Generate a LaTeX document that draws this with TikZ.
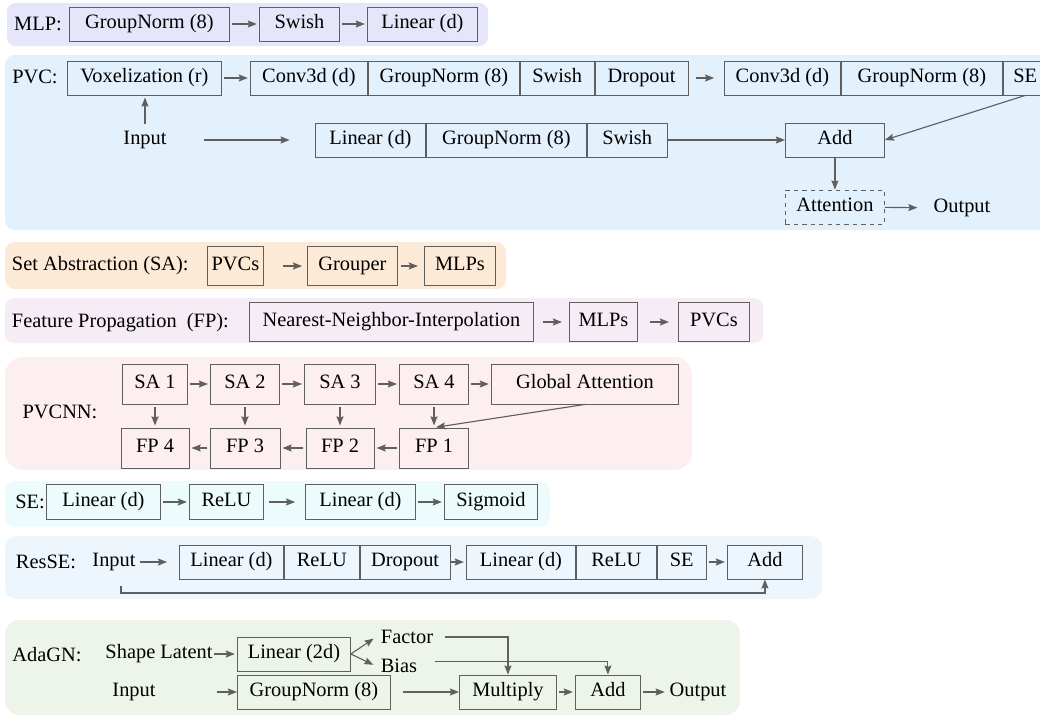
\documentclass[tikz,border=0pt]{standalone}
\usepackage{fontspec}
\setmainfont{Liberation Serif}
\usetikzlibrary{arrows.meta}

\definecolor{trait}{RGB}{95,95,95}
\definecolor{fondmlp}{RGB}{230,230,250}
\definecolor{fondpvc}{RGB}{227,241,253}
\definecolor{fondsa}{RGB}{253,234,214}
\definecolor{fondfp}{RGB}{245,236,246}
\definecolor{fondpvcnn}{RGB}{253,239,239}
\definecolor{fondse}{RGB}{236,252,253}
\definecolor{fondres}{RGB}{238,246,253}
\definecolor{fondada}{RGB}{237,245,235}

\begin{document}
\begin{tikzpicture}[x=0.025cm, y=-0.025cm, font=\fontsize{14.5}{17}\selectfont,
    bloc/.style={draw=trait, line width=0.6pt, minimum height=0.85cm, inner sep=0pt, text height=0.66em, text depth=0pt},
    fleche/.style={draw=trait, line width=0.8pt, -{Stealth[length=6.5pt,width=5pt,inset=1pt]}, shorten <=1.5pt, shorten >=1.5pt}]

        \useasboundingbox (0,0) rectangle (1040,717);

        %% MLP
        \fill [fondmlp, rounded corners=6pt] (7,3) rectangle (488,46);
        \node [] (mlptxt) at (38,24) {MLP:};
        \node [bloc, anchor=west, minimum width=4cm] (mlpgn) at (69,24) {GroupNorm (8)};
        \node [bloc, anchor=west, minimum width=2cm] (mlpsw) at (259,24) {Swish};
        \node [bloc, anchor=west, minimum width=2.75cm] (mlplin) at (367,24) {Linear (d)};
        \draw [fleche] (mlpgn) -- (mlpsw);
        \draw [fleche] (mlpsw) -- (mlplin);

        %% PVC
        \fill [fondpvc, rounded corners=7pt] (5,55) rectangle (1060,230);
        \node [] (pvctxt) at (35,77) {PVC:};
        \node [bloc, anchor=west, minimum width=3.85cm] (pvcvox) at (67,78) {Voxelization (r)};
        \node [bloc, anchor=west, minimum width=2.925cm] (pvcconva) at (250,78) {Conv3d (d)};
        \node [bloc, anchor=west, minimum width=3.775cm] (pvcgna) at (pvcconva.east) {GroupNorm (8)};
        \node [bloc, anchor=west, minimum width=1.85cm] (pvcswa) at (pvcgna.east) {Swish};
        \node [bloc, anchor=west, minimum width=2.325cm] (pvcdrop) at (pvcswa.east) {Dropout};
        \node [bloc, anchor=west, minimum width=2.9cm] (pvcconvb) at (724,78) {Conv3d (d)};
        \node [bloc, anchor=west, minimum width=4.025cm] (pvcgnb) at (pvcconvb.east) {GroupNorm (8)};
        \node [bloc, anchor=west, minimum width=1.1cm] (pvcse) at (pvcgnb.east) {SE};

        \node [] (pvcin) at (145,140) {Input};
        \node [bloc, anchor=west, minimum width=2.75cm] (pvclin) at (315,140) {Linear (d)};
        \node [bloc, anchor=west, minimum width=4cm] (pvcgnc) at (pvclin.east) {GroupNorm (8)};
        \node [bloc, anchor=west, minimum width=2cm] (pvcswc) at (pvcgnc.east) {Swish};
        \node [bloc, anchor=west, minimum width=2.475cm] (pvcadd) at (785,140) {Add};
        \node [bloc, anchor=west, minimum width=2.475cm, dashed] (pvcatt) at (785,207) {Attention};
        \node [] (pvcout) at (962,208) {Output};

        \draw [fleche] (pvcvox) -- (pvcconva);
        \draw [fleche, shorten <=5pt, shorten >=7pt] (pvcdrop) -- (pvcconvb);
        \draw [fleche] (pvcin.north) -- (pvcin.north |- pvcvox.south);
        \draw [fleche, shorten <=23pt, shorten >=18pt] (pvcin) -- (pvclin);
        \draw [fleche, shorten <=0pt, shorten >=0pt] (pvcswc) -- (pvcadd);
        \draw [fleche, shorten <=0pt, shorten >=0pt] (pvcse.south) -- (pvcadd.east);
        \draw [fleche, shorten <=0pt, shorten >=0pt] (pvcadd) -- (pvcatt);
        \draw [fleche, shorten <=0pt, shorten >=8pt] (pvcatt) -- (pvcout);

        %% set abstraction
        \fill [fondsa, rounded corners=7pt] (5,242) rectangle (506,289);
        \node [anchor=west] (satxt) at (7,266) {Set Abstraction (SA):};
        \node [bloc, anchor=west, minimum width=1.4cm, minimum height=0.975cm] (sapvc) at (207,266) {PVCs};
        \node [bloc, anchor=west, minimum width=2.25cm, minimum height=0.975cm] (sagrp) at (307,266) {Grouper};
        \node [bloc, anchor=west, minimum width=1.775cm, minimum height=0.975cm] (samlp) at (424,266) {MLPs};
        \draw [fleche, shorten <=13.5pt, shorten >=3.5pt] (sapvc) -- (sagrp);
        \draw [fleche, shorten <=2pt, shorten >=4.3pt] (sagrp) -- (samlp);

        %% feature propagation
        \fill [fondfp, rounded corners=6pt] (5,298) rectangle (763,343);
        \node [anchor=west] (fptxt) at (7,323) {Feature Propagation\ \ (FP):};
        \node [bloc, anchor=west, minimum width=7.1cm, minimum height=0.975cm] (fpnni) at (249,322) {Nearest-Neighbor-Interpolation};
        \node [bloc, anchor=west, minimum width=1.7cm, minimum height=0.975cm] (fpmlp) at (569,322) {MLPs};
        \node [bloc, anchor=west, minimum width=1.775cm, minimum height=0.975cm] (fppvc) at (678,322) {PVCs};
        \draw [fleche, shorten <=6.4pt, shorten >=5pt] (fpnni) -- (fpmlp);
        \draw [fleche, shorten <=8.5pt, shorten >=6.4pt] (fpmlp) -- (fppvc);

        %% PVCNN
        \fill [fondpvcnn, rounded corners=13pt] (5,357) rectangle (692,470);
        \node [] (pvcnntxt) at (60,412) {PVCNN:};
        \node [bloc, minimum width=1.625cm, minimum height=1cm] (sa1) at (155,384) {SA 1};
        \node [bloc, minimum width=1.725cm, minimum height=1cm] (sa2) at (245,384) {SA 2};
        \node [bloc, minimum width=1.775cm, minimum height=1cm] (sa3) at (340,384) {SA 3};
        \node [bloc, minimum width=1.725cm, minimum height=1cm] (sa4) at (434,384) {SA 4};
        \node [bloc, anchor=west, minimum width=4.675cm, minimum height=1cm] (ga) at (491,384) {Global Attention};
        \node [bloc, minimum width=1.7cm, minimum height=1cm] (fp4) at (155,448) {FP 4};
        \node [bloc, minimum width=1.75cm, minimum height=1cm] (fp3) at (245,448) {FP 3};
        \node [bloc, minimum width=1.7cm, minimum height=1cm] (fp2) at (340,448) {FP 2};
        \node [bloc, minimum width=1.725cm, minimum height=1cm] (fp1) at (434,448) {FP 1};

        \draw [fleche] (sa1) -- (sa2);
        \draw [fleche] (sa2) -- (sa3);
        \draw [fleche] (sa3) -- (sa4);
        \draw [fleche] (sa4) -- (ga);
        \draw [fleche] (sa1) -- (fp4);
        \draw [fleche] (sa2) -- (fp3);
        \draw [fleche] (sa3) -- (fp2);
        \draw [fleche] (sa4) -- (fp1);
        \draw [fleche, shorten <=0pt] (ga.south) -- (fp1.north);
        \draw [fleche] (fp1) -- (fp2);
        \draw [fleche] (fp2) -- (fp3);
        \draw [fleche] (fp3) -- (fp4);

        %% SE
        \fill [fondse, rounded corners=7pt] (5,481) rectangle (550,527);
        \node [] (setxt) at (30,502) {SE:};
        \node [bloc, anchor=west, minimum width=2.85cm, minimum height=0.875cm] (selina) at (46,502) {Linear (d)};
        \node [bloc, anchor=west, minimum width=1.85cm, minimum height=0.875cm] (serelu) at (189,502) {ReLU};
        \node [bloc, anchor=west, minimum width=2.75cm, minimum height=0.875cm] (selinb) at (305,502) {Linear (d)};
        \node [bloc, anchor=west, minimum width=2.325cm, minimum height=0.875cm] (sesig) at (444,502) {Sigmoid};
        \draw [fleche] (selina) -- (serelu);
        \draw [fleche, shorten <=3.5pt, shorten >=7pt] (serelu) -- (selinb);
        \draw [fleche] (selinb) -- (sesig);

        %% ResSE
        \fill [fondres, rounded corners=8pt] (5,536) rectangle (822,599);
        \node [] (restxt) at (46,562) {ResSE:};
        \node [] (resin) at (114,562) {Input};
        \node [bloc, anchor=west, minimum width=2.6cm] (reslina) at (179,562) {Linear (d)};
        \node [bloc, anchor=west, minimum width=1.875cm] (resrelua) at (reslina.east) {ReLU};
        \node [bloc, anchor=west, minimum width=2.25cm] (resdrop) at (resrelua.east) {Dropout};
        \node [bloc, anchor=west, minimum width=2.725cm] (reslinb) at (466,562) {Linear (d)};
        \node [bloc, anchor=west, minimum width=2cm] (resrelub) at (reslinb.east) {ReLU};
        \node [bloc, anchor=west, minimum width=1.225cm] (resse) at (resrelub.east) {SE};
        \node [bloc, anchor=west, minimum width=1.875cm] (resadd) at (727,562) {Add};
        \coordinate (resdep) at (121,586);
        \coordinate (resbas) at (121,593);

        \draw [fleche, shorten <=0pt, shorten >=8.5pt] (resin) -- (reslina);
        \draw [fleche, shorten <=0pt] (resdrop) -- (reslinb);
        \draw [fleche] (resse) -- (resadd);
        \draw [fleche, shorten <=0pt, shorten >=0pt] (resdep) -- (resbas) -| (resadd.south);

        %% AdaGN
        \fill [fondada, rounded corners=10pt] (5,620) rectangle (740,715);
        \node [] (adatxt) at (47,655) {AdaGN:};
        \node [inner sep=1pt] (adashape) at (159,654) {Shape Latent};
        \node [bloc, anchor=west, minimum width=2.825cm] (adalin) at (237,654) {Linear (2d)};
        \node [] (adafac) at (407,637) {Factor};
        \node [] (adabias) at (399,666) {Bias};
        \node [] (adain) at (134,692) {Input};
        \node [bloc, anchor=west, minimum width=3.825cm] (adagn) at (237,692) {GroupNorm (8)};
        \node [bloc, anchor=west, minimum width=2.425cm] (adamul) at (459,692) {Multiply};
        \node [bloc, anchor=west, minimum width=1.625cm] (adaadd) at (575,692) {Add};
        \node [] (adaout) at (698,692) {Output};

        \draw [fleche, shorten <=0pt] (adashape) -- (adalin);
        \draw [fleche, shorten <=0pt, shorten >=2pt] (adalin.east) -- (adafac.west);
        \draw [fleche, shorten <=0pt, shorten >=2pt] (adalin.east) -- (adabias.west);
        \draw [fleche, shorten <=5pt, shorten >=0pt] (adafac.east) -| (adamul.north);
        \draw [fleche, shorten <=9pt, shorten >=0pt] ([yshift=3.5pt]adabias.east) -| (adaadd.north);
        \draw [fleche, shorten <=40pt, shorten >=0pt] (adain) -- (adagn);
        \draw [fleche, shorten <=8.5pt, shorten >=0pt] (adagn) -- (adamul);
        \draw [fleche] (adamul) -- (adaadd);
        \draw [fleche, shorten >=0pt] (adaadd) -- (adaout);

    \end{tikzpicture}
\end{document}
